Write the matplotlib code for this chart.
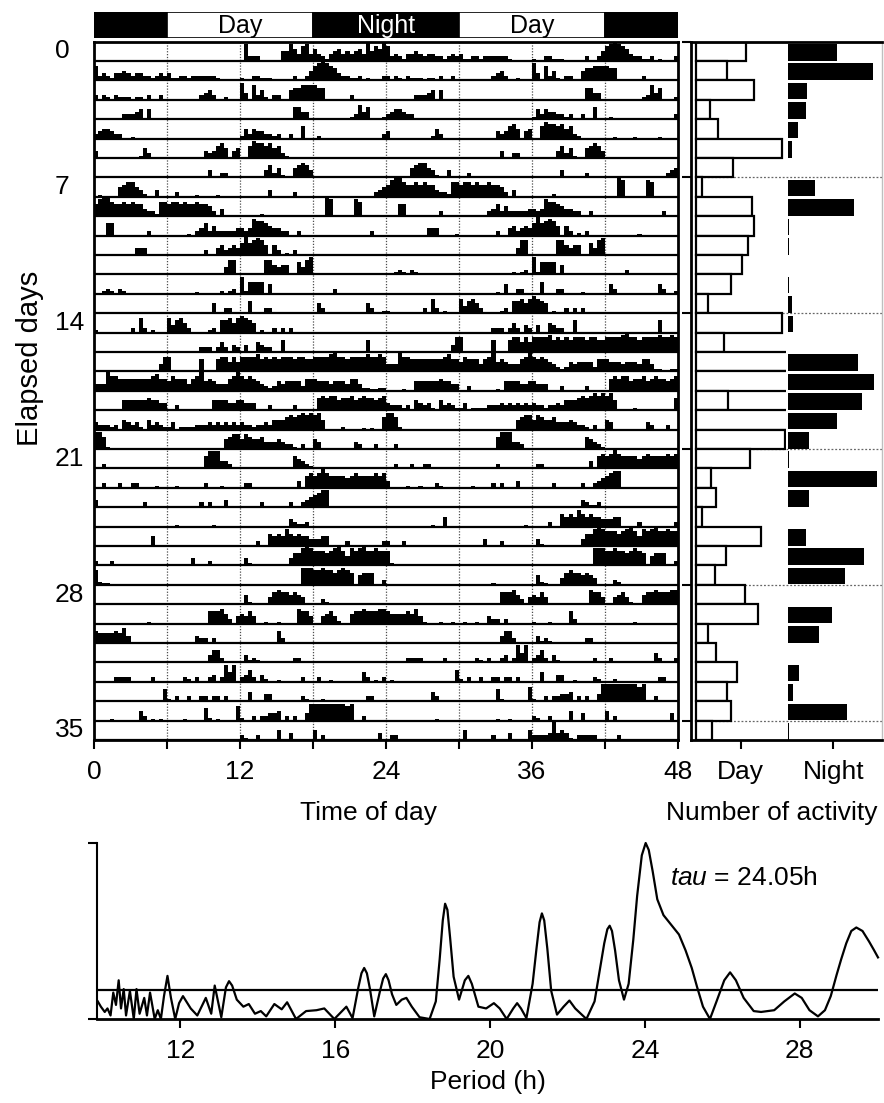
import matplotlib
matplotlib.use("Agg")
import matplotlib.pyplot as plt
import numpy as np
from matplotlib.patches import Rectangle
from matplotlib.transforms import blended_transform_factory

plt.rcParams.update({
    "font.family": ["Liberation Sans", "DejaVu Sans"],
    "mathtext.fontset": "custom",
    "mathtext.rm": "Liberation Sans",
    "mathtext.it": "Liberation Sans:italic",
    "font.size": 19,
})

W, H = 884, 1103
FS = 19

# activity per day, 20-min bins (72 per day), level 0-9, "." = trace
ACTIVITY = [
    "000000000000 000000000000 000000000000 072220000044 753673532134 534345384658",
    "623213343233 221232311221 222222100000 100221110000 020024678765 322112010002",
    "202102111011 020020000000 002342001000 730624102200 455666655000 000200000000",
    "000000022234 040000000000 000000000000 000000000000 055330000000 000126350001",
    "234432200.00 000000000000 000000000000 142433221200 200500010000 000000000002",
    "300000000001 420000000000 000323564034 005766564521 00000000.000 0.00000.0000",
    "000000000000 000000000000 000030022000 000000352410 045653000000 0.0000000000",
    "0.0000456643 100300002000 0.0000.00000 000000030000 020000000000 000000000234",
    "578865565655 322166566565 565542030000 000001000000 000000000870 000076000000",
    "000550000000 02000000000. 023524222223 323766543322 002000000000 000000002000",
    "000000000033 30000.000000 000200342343 585676404201 020000000000 00.000000000",
    "000000000000 00000000.000 000000003660 0.000.664344 005367000000 000000000000",
    "001210210000 000000000000 0.0000010120 715555040000 000000000002 000000000000",
    "000000000000 000000000000 000.04002200 005000220000 .00000042000 000000042001",
    "100000000206 201000635642 000012055646 765401002020 200000000000 000000000000",
    "000000000000 000000000000 002220242032 030043220050 000000000000 000000050000",
    "000.00.00.00 000036600000 005000566464 666675656566 656655666678 665666676676",
    "333866555555 556755465553 568454333568 656543212434 444255544434 44355311..11",
    "0000.0044444 454433002000 000.04444334 433300020000 020000056566 455645655456",
    "322212043231 042321130111 122232323232 322122324445 656767674000 010000.0.005",
    "775100000000 000000000000 000000004566 465445333432 210200430000 000032000200",
    "002000000.00 00.000000000 000577733200 0.0000000000 054321000.00 000000000000",
    "002000200220 000.0000.000 0002000.0000 022000000000 003056568655 554565555656",
    "30000.00.000 2.0000000.00 002020003000 000002000000 200234567700 000000000000",
    "000000000000 00000000.000 00000.000000 000000000000 321120000000 000000000000",
    "00000000000. 004000000000 0000000000.0 000020054547 545443334400 002000000002",
    "20002000.000 .00000000000 300020000000 0310000.0000 355787666567 864767866766",
    "61..00000000 000000000000 000000000000 000000000000 000777667665 676504555002",
    "000000000000 000000000000 00.000000000 041.00035655 454300002100 000000000000",
    "000000000000 0.0000000000 000055564203 435300.00.00 006553003453 100455655566",
    "544445463.00 0.00.00.00.0 032202000000 .000.0000520 000000000000 0.0000000000",
    "000000000000 0.000000.000 000035520000 .3121000000. 022000000000 000000.00000",
    "000002222000 002000000021 020023027470 235203100.00 0002000200.0 000000420.02",
    "0.0000000000 000005102002 002202202000 0040003300.0 000210001000 000000022000",
    "0000.0000004 20.0.00000.0 000510.00006 100202233402 020037777777 776700200000",
    "000000000000 .00000000000 000.00.00000 210020000400 300000402000 000000000030",
    "022000000000 000000040000 002000300004 222238343102 222200000200 0000.0000000",
]

LD_EDGES = [0, 6, 18, 30, 42, 48]
LD_DARK = [True, False, True, False, True]
LD_LABELS = ["", "Day", "Night", "Day", ""]

ROW_LABELS = [0, 7, 14, 21, 28, 35]

DAY_COUNTS = [51, 32, 60, 14, 23, 88, 38, 6, 58, 60, 54, 47, 36, 12, 88, 29, 100, 100,
              33, 100, 91, 56, 16, 21, 6, 67, 31, 20, 50, 64, 12, 21, 42, 32, 36, 17]
NIGHT_COUNTS = [50, 87, 19, 18, 10, 4, 0, 27, 67, 0.5, 0.5, 0, 1, 4, 5, 0, 71, 88,
                75, 50, 21, 0.5, 91, 21, 0, 18, 78, 58, 0, 45, 31, 0, 11, 5, 60, 1]

PERIOD_H = [9.87, 9.95, 10.05, 10.12, 10.2, 10.27, 10.34, 10.41, 10.47, 10.54,
            10.6, 10.7, 10.8, 10.87, 10.95, 11.07, 11.14, 11.22, 11.34, 11.42,
            11.5, 11.58, 11.67, 11.76, 11.87, 11.97, 12.07, 12.27, 12.44, 12.66,
            12.8, 12.89, 13.06, 13.18, 13.26, 13.34, 13.46, 13.63, 13.77, 13.93,
            14.08, 14.22, 14.43, 14.62, 14.76, 14.99, 15.25, 15.52, 15.72, 15.98,
            16.29, 16.45, 16.6, 16.68, 16.75, 16.82, 16.9, 17.01, 17.16, 17.24,
            17.31, 17.38, 17.47, 17.58, 17.72, 17.84, 17.98, 18.18, 18.44, 18.6,
            18.7, 18.78, 18.84, 18.9, 18.97, 19.06, 19.2, 19.35, 19.44, 19.53,
            19.7, 19.9, 20.1, 20.25, 20.43, 20.6, 20.7, 20.8, 20.94, 21.1,
            21.2, 21.28, 21.34, 21.4, 21.48, 21.58, 21.73, 21.9, 22.05, 22.2,
            22.49, 22.7, 22.85, 22.95, 23.03, 23.09, 23.15, 23.23, 23.33, 23.46,
            23.58, 23.7, 23.8, 23.92, 24.02, 24.1, 24.2, 24.32, 24.48, 24.7,
            24.88, 25.05, 25.21, 25.35, 25.5, 25.68, 25.85, 26.05, 26.2, 26.35,
            26.55, 26.81, 27.0, 27.34, 27.6, 27.87, 28.05, 28.25, 28.47, 28.65,
            28.8, 28.95, 29.07, 29.2, 29.33, 29.46, 29.62, 29.79, 29.92, 30.02]
POWER = [0.10, 0.07, 0.04, 0.06, 0.02, 0.15, 0.08, 0.22, 0.06, 0.17,
         0.02, 0.16, 0.0, 0.17, 0.03, 0.12, 0.02, 0.15, 0.0, 0.05,
         0.0, 0.13, 0.245, 0.12, 0.0, 0.09, 0.13, 0.06, 0.02, 0.12,
         0.03, 0.19, 0.01, 0.18, 0.215, 0.19, 0.11, 0.07, 0.085, 0.03,
         0.045, 0.015, 0.085, 0.055, 0.095, 0.0, 0.045, 0.05, 0.06, 0.0,
         0.07, 0.005, 0.18, 0.26, 0.29, 0.26, 0.17, 0.015, 0.16, 0.23,
         0.255, 0.22, 0.14, 0.08, 0.11, 0.12, 0.07, 0.01, 0.0, 0.1,
         0.34, 0.56, 0.655, 0.62, 0.46, 0.24, 0.11, 0.22, 0.245, 0.2,
         0.07, 0.06, 0.09, 0.06, 0.0, 0.06, 0.09, 0.06, 0.005, 0.2,
         0.4, 0.55, 0.6, 0.56, 0.4, 0.16, 0.025, 0.07, 0.105, 0.06,
         0.0, 0.1, 0.3, 0.43, 0.51, 0.53, 0.5, 0.39, 0.22, 0.11,
         0.2, 0.45, 0.7, 0.93, 1.0, 0.96, 0.84, 0.68, 0.59, 0.53,
         0.48, 0.39, 0.29, 0.18, 0.07, 0.0, 0.1, 0.22, 0.265, 0.22,
         0.12, 0.045, 0.04, 0.05, 0.1, 0.145, 0.12, 0.05, 0.015, 0.05,
         0.13, 0.25, 0.34, 0.43, 0.5, 0.52, 0.5, 0.44, 0.39, 0.35]
THRESHOLD = 0.165


def box(x0, y0, x1, y1):
    return [x0 / W, 1 - y1 / H, (x1 - x0) / W, (y1 - y0) / H]


def levels(s):
    s = s.replace(" ", "")
    assert len(s) == 72, (s, len(s))
    return np.array([0.6 if c == "." else float(c) for c in s]) / 10.0


days = [levels(s) for s in ACTIVITY]
n_rows = len(days) - 1
assert len(PERIOD_H) == len(POWER), (len(PERIOD_H), len(POWER))

fig = plt.figure(figsize=(W / 100, H / 100), dpi=100)

# light/dark bar
axb = fig.add_axes(box(94, 12, 678, 38))
for a, b, dark, lab in zip(LD_EDGES[:-1], LD_EDGES[1:], LD_DARK, LD_LABELS):
    axb.add_patch(Rectangle((a, 0), b - a, 1, facecolor="black" if dark else "white",
                            edgecolor="black", lw=1.2))
    if lab:
        axb.text((a + b) / 2, 0.45, lab, ha="center", va="center", fontsize=18,
                 color="white" if dark else "black")
axb.set_xlim(0, 48)
axb.set_ylim(0, 1)
axb.axis("off")

# actogram, double plotted
ax = fig.add_axes(box(94, 41.6, 678, 740))
edges = np.arange(73) / 3.0
for r in range(n_rows):
    base = r + 1
    for k in range(2):
        h = np.minimum(1.25 * days[r + k], 0.97)
        ax.stairs(base - h, edges + 24 * k, baseline=base, fill=True, color="black", lw=0)
ax.hlines(np.arange(1, n_rows + 1), 0, 48, color="black", lw=1.6)
ax.vlines(np.arange(6, 48, 6), 0, n_rows, colors="0.3", linestyles=(0, (1, 1.3)),
          lw=0.9, zorder=0)
ax.set_xlim(0, 48)
ax.set_ylim(n_rows, 0)
ax.set_xticks(np.arange(0, 49, 6))
ax.set_xticklabels([str(t) if t % 12 == 0 else "" for t in range(0, 49, 6)])
ax.set_yticks([])
ax.tick_params(axis="x", direction="out", length=6.5, width=1.5, pad=8, labelsize=FS)
for s in ax.spines.values():
    s.set_linewidth(2)

trans = blended_transform_factory(fig.transFigure, ax.transData)
for d in ROW_LABELS:
    ax.text(55 / W, d + 0.5, str(d), transform=trans, ha="left", va="center", fontsize=FS)
fig.text(30 / W, 1 - 358 / H, "Elapsed days", rotation=90, ha="center", va="center",
         fontsize=21)
fig.text(368 / W, 1 - 813 / H, "Time of day", ha="center", va="center", fontsize=FS)

# day / night activity counts
axr = fig.add_axes(box(691, 41.6, 882, 740))
axr.set_xlim(-5, 191)
axr.set_ylim(n_rows, 0)
yy = np.arange(n_rows) + 0.5
axr.hlines(ROW_LABELS[1:], 0, 191, colors="0.4", linestyles=(0, (1.5, 1.5)), lw=0.9,
           zorder=0)
clip = Rectangle((-5, 0), 97, n_rows, transform=axr.transData)
bars = axr.barh(yy, DAY_COUNTS, height=1.0, left=0, color="white", edgecolor="black",
                lw=1.6, zorder=2)
for b in bars:
    b.set_clip_path(clip)
axr.barh(yy + 0.05, NIGHT_COUNTS, height=0.85, left=95, color="black", zorder=2)
axr.set_yticks(ROW_LABELS)
axr.set_yticklabels([])
axr.set_xticks([46, 141])
axr.set_xticklabels(["Day", "Night"])
axr.tick_params(direction="out", length=6.5, width=1.5, pad=8, labelsize=FS)
for side in ("left", "top", "bottom"):
    axr.spines[side].set_linewidth(2)
axr.spines["right"].set_color("0.75")
axr.spines["right"].set_linewidth(1)
fig.text(772 / W, 1 - 813 / H, "Number of activity", ha="center", va="center", fontsize=FS)

# periodogram
axp = fig.add_axes(box(97, 843, 878, 1019))
axp.plot(PERIOD_H, POWER, color="black", lw=1.6, clip_on=False)
axp.axhline(THRESHOLD, color="black", lw=1.6)
axp.set_xlim(9.85, 30.02)
axp.set_ylim(0, 1.0)
axp.set_xticks([12, 16, 20, 24, 28])
axp.set_yticks([0, 1])
axp.set_yticklabels([])
axp.tick_params(direction="out", length=6.5, width=1.5, pad=8, labelsize=FS)
axp.spines["top"].set_visible(False)
axp.spines["right"].set_visible(False)
axp.spines["left"].set_linewidth(1.5)
axp.spines["bottom"].set_linewidth(2)
axp.set_xlabel("Period (h)", fontsize=FS, labelpad=5)
axp.text(24.65, 0.8, r"$\mathit{tau}$ = 24.05h", ha="left", va="center", fontsize=FS)

fig.savefig("out.png", dpi=100)
